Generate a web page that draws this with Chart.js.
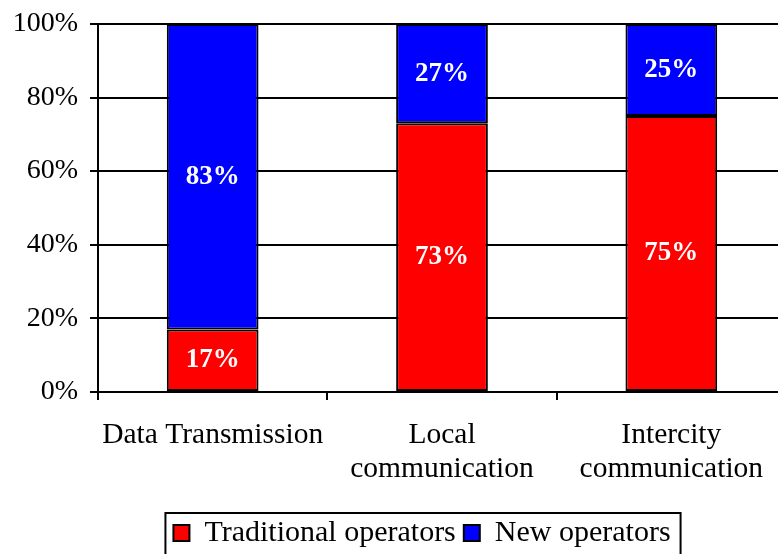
<!DOCTYPE html>
<html>
<head>
<meta charset="utf-8">
<script src="https://cdn.jsdelivr.net/npm/chart.js@4/dist/chart.umd.min.js"></script>
<style>
  html, body { margin: 0; padding: 0; background: #fff; overflow: hidden; }
  #wrap { width: 786px; height: 554px; }
</style>
</head>
<body>
<div id="wrap"><canvas id="chart" width="786" height="554"></canvas></div>
<script>
const categories = [["Data Transmission"], ["Local", "communication"], ["Intercity", "communication"]];
const traditional = [17, 73, 75];
const newOperators = [83, 27, 25];
const seriesNames = ["Traditional operators", "New operators"];

Chart.defaults.font.family = "'Liberation Serif', 'DejaVu Serif', serif";
Chart.defaults.font.size = 28;
Chart.defaults.color = "#000";

// etiquetas dentro de cada segmento
const etiquetasBarras = {
  id: "etiquetasBarras",
  afterDatasetsDraw(chart) {
    const ctx = chart.ctx;
    ctx.save();
    ctx.fillStyle = "#fff";
    ctx.font = "bold 27px 'Liberation Serif', serif";
    ctx.textAlign = "center";
    ctx.textBaseline = "middle";
    chart.data.datasets.forEach((ds, i) => {
      chart.getDatasetMeta(i).data.forEach((bar, j) => {
        const mid = (bar.y + bar.base) / 2;
        ctx.fillText(ds.data[j] + "%", bar.x, mid);
      });
    });
    ctx.restore();
  }
};

// desplaza la leyenda como en el original
const moverLeyenda = {
  id: "moverLeyenda",
  afterLayout(chart) {
    const lg = chart.legend;
    lg.left += 29; lg.right += 29;
    lg.top += 4; lg.bottom += 4;
  }
};

// marco alrededor de la leyenda
const marcoLeyenda = {
  id: "marcoLeyenda",
  afterDraw(chart) {
    const boxes = chart.legend.legendHitBoxes;
    if (!boxes || !boxes.length) return;
    const left = Math.min(...boxes.map(b => b.left)) - 8;
    const right = Math.max(...boxes.map(b => b.left + b.width)) + 10;
    const top = Math.min(...boxes.map(b => b.top)) - 5;
    const ctx = chart.ctx;
    ctx.save();
    ctx.strokeStyle = "#000";
    ctx.lineWidth = 2;
    ctx.strokeRect(left, top, right - left, 80);
    ctx.restore();
  }
};

new Chart(document.getElementById("chart"), {
  type: "bar",
  data: {
    labels: categories,
    datasets: [
      {
        label: seriesNames[0],
        data: traditional,
        backgroundColor: "#ff0000",
        borderColor: "#000",
        borderWidth: 2,
        borderSkipped: false,
        categoryPercentage: 1,
        barPercentage: 0.4
      },
      {
        label: seriesNames[1],
        data: newOperators,
        backgroundColor: "#0000ff",
        borderColor: "#000",
        borderWidth: 2,
        borderSkipped: false,
        categoryPercentage: 1,
        barPercentage: 0.4
      }
    ]
  },
  options: {
    responsive: false,
    animation: false,
    devicePixelRatio: 1,
    layout: { padding: { top: 0, left: 0, right: 0, bottom: 0 } },
    plugins: {
      tooltip: { enabled: false },
      legend: {
        position: "bottom",
        labels: {
          boxWidth: 16,
          boxHeight: 16,
          padding: 8,
          font: { size: 30 },
          color: "#000"
        }
      }
    },
    scales: {
      x: {
        stacked: true,
        grid: {
          offset: true,
          drawOnChartArea: false,
          drawTicks: true,
          tickLength: 8,
          color: "#000",
          lineWidth: 2
        },
        border: { display: true, color: "#000", width: 2 },
        ticks: {
          padding: 18,
          maxRotation: 0,
          autoSkip: false,
          font: { size: 29.5, lineHeight: 1.15 },
          color: "#000"
        },
        afterFit(scale) { scale.height = 114; }
      },
      y: {
        stacked: true,
        min: 0,
        max: 100,
        grid: {
          color: "#000",
          lineWidth: 2,
          tickLength: 8,
          drawTicks: true
        },
        border: { display: true, color: "#000", width: 2 },
        ticks: {
          stepSize: 20,
          padding: 12,
          font: { size: 28, lineHeight: 0.85 },
          color: "#000",
          callback: v => v + "%"
        },
        afterFit(scale) { scale.width = 98; }
      }
    }
  },
  plugins: [etiquetasBarras, moverLeyenda, marcoLeyenda]
});
</script>
</body>
</html>
